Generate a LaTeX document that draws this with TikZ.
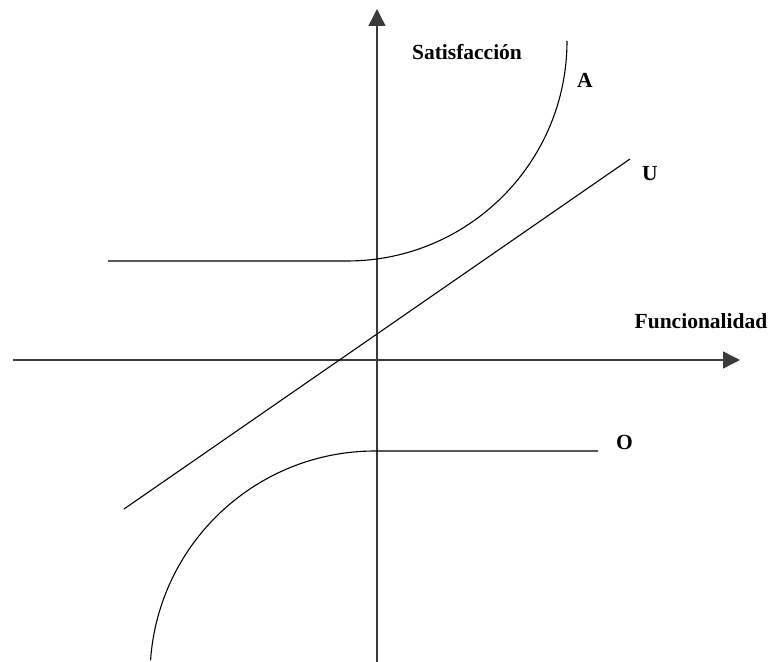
\documentclass[tikz,border=0pt]{standalone}
\usepackage{fontspec}
\setmainfont{Liberation Serif}
\usetikzlibrary{arrows.meta}
\definecolor{axisgray}{HTML}{3A3A3A}

\begin{document}
\begin{tikzpicture}[
    x=1pt, y=1pt,
    line width=1.1pt,
    every node/.style={font=\rmfamily\bfseries\fontsize{21.5}{24}\selectfont, inner sep=0pt},
    axisline/.style={draw=axisgray, line width=1.4pt,
      -{Triangle[length=17pt, width=17pt]}},
    curveline/.style={draw=black, line width=1.1pt},
  ]
  \useasboundingbox (0,0) rectangle (772,662);

  % ---------- Axes -------------------------------------------------------
  \coordinate (yaxisfoot) at (377,0);
  \coordinate (yaxistip) at (377,653);
  \coordinate (xaxisfoot) at (13,302);
  \coordinate (xaxistip) at (740,302);
  \draw[axisline] (yaxisfoot) -- (yaxistip);
  \draw[axisline] (xaxisfoot) -- (xaxistip);

  % ---------- Curve A (flat, then quarter circle upwards) ----------------
  \coordinate (astart) at (108,401);
  \coordinate (abend) at (347,401);
  \draw[curveline] (astart) -- (abend) arc[start angle=270, end angle=360, radius=220];

  % ---------- Line U -----------------------------------------------------
  \coordinate (ustart) at (124,153);
  \coordinate (uend) at (630,503);
  \draw[curveline] (ustart) -- (uend);

  % ---------- Curve O (quarter circle, then flat) ------------------------
  \coordinate (otop) at (375,211);
  \coordinate (oend) at (598,211);
  \draw[curveline] (oend) -- (otop) arc[start angle=90, end angle=176, radius=225];

  % ---------- Labels -----------------------------------------------------
  \node[anchor=base] (satlabel) at (467,602) {Satisfacción};
  \node[anchor=base] (funclabel) at (701,333) {Funcionalidad};
  \node[anchor=base] (alabel) at (585,574) {A};
  \node[anchor=base] (ulabel) at (650,481) {U};
  \node[anchor=base] (olabel) at (624.5,212) {O};

\end{tikzpicture}
\end{document}
